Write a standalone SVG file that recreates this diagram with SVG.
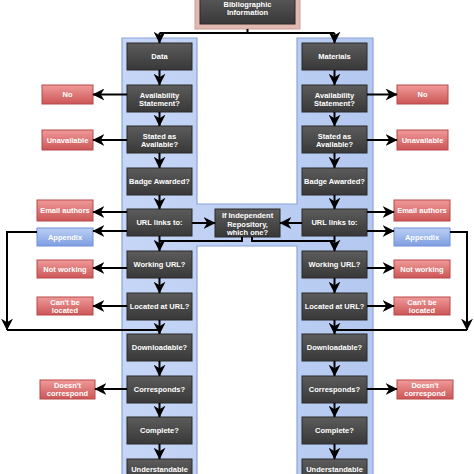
<svg xmlns="http://www.w3.org/2000/svg" width="474" height="474" viewBox="0 0 474 474">
<defs>
<linearGradient id="gDark" x1="0" y1="0" x2="0" y2="1"><stop offset="0" stop-color="#5c5c5c"/><stop offset="1" stop-color="#383838"/></linearGradient>
<linearGradient id="gRed" x1="0" y1="0" x2="0" y2="1"><stop offset="0" stop-color="#f09a9a"/><stop offset="1" stop-color="#cc5656"/></linearGradient>
<linearGradient id="gBlue" x1="0" y1="0" x2="0" y2="1"><stop offset="0" stop-color="#bcd0f4"/><stop offset="1" stop-color="#7e9ee2"/></linearGradient>
<linearGradient id="gPanel" x1="0" y1="0" x2="1" y2="0"><stop offset="0" stop-color="#c6d6f6"/><stop offset="1" stop-color="#b4c8f0"/></linearGradient>
<marker id="ah" markerUnits="userSpaceOnUse" markerWidth="12" markerHeight="12" viewBox="0 0 10 10" refX="9.5" refY="5" orient="auto">
<path d="M0,0 L10,5 L0,10 L3,5 Z" fill="#000"/>
</marker>
<style>
.d{fill:url(#gDark);stroke:#2a2a2a;stroke-width:1}
.r{fill:url(#gRed);stroke:#b84848;stroke-width:1}
.b{fill:url(#gBlue);stroke:#6f90d8;stroke-width:1}
text{font-family:"Liberation Sans",Arial,sans-serif;font-weight:bold;font-size:7.5px;fill:#fff;text-anchor:middle}
.c{fill:none;stroke:#000;stroke-width:2}
.a{fill:none;stroke:#000;stroke-width:2;marker-end:url(#ah)}
</style>
</defs>
<rect width="474" height="474" fill="#fff"/>
<path d="M122,38 H197 V204 H297 V38 H373 V480 H297 V246 H197 V480 H122 Z" fill="url(#gPanel)" stroke="#8aa4dc" stroke-width="1.2"/>

<g id="biblio">
<rect x="195" y="-6" width="105" height="35" fill="#e2b9b1" stroke="#caa09a"/>
<rect x="200" y="-6" width="95" height="30" class="d"/>
<text x="247.5" y="6.5">Bibliographic</text>
<text x="247.5" y="15">Information</text>
</g>

<g id="L-data"><rect class="d" x="127" y="43" width="65" height="27"/><text x="159.5" y="59.2">Data</text></g>
<g id="L-avail"><rect class="d" x="127" y="85" width="65" height="27"/><text x="159.5" y="97.7">Availability</text><text x="159.5" y="106">Statement?</text></g>
<g id="L-stated"><rect class="d" x="127" y="126" width="65" height="27"/><text x="159.5" y="138.7">Stated as</text><text x="159.5" y="147">Available?</text></g>
<g id="L-badge"><rect class="d" x="127" y="168" width="65" height="27"/><text x="159.5" y="184.2">Badge Awarded?</text></g>
<g id="L-url"><rect class="d" x="127" y="209" width="65" height="27"/><text x="159.5" y="225.2">URL links to:</text></g>
<g id="L-working"><rect class="d" x="127" y="251" width="65" height="27"/><text x="159.5" y="267.2">Working URL?</text></g>
<g id="L-located"><rect class="d" x="127" y="293" width="65" height="27"/><text x="159.5" y="309.2">Located at URL?</text></g>
<g id="L-download"><rect class="d" x="127" y="334" width="65" height="27"/><text x="159.5" y="350.2">Downloadable?</text></g>
<g id="L-corr"><rect class="d" x="127" y="376" width="65" height="27"/><text x="159.5" y="392.2">Corresponds?</text></g>
<g id="L-complete"><rect class="d" x="127" y="417" width="65" height="27"/><text x="159.5" y="433.2">Complete?</text></g>
<g id="L-under"><rect class="d" x="127" y="459" width="65" height="27"/><text x="159.5" y="471.5">Understandable</text></g>

<g id="R-mat"><rect class="d" x="302" y="43" width="65" height="27"/><text x="334.5" y="59.2">Materials</text></g>
<g id="R-avail"><rect class="d" x="302" y="85" width="65" height="27"/><text x="334.5" y="97.7">Availability</text><text x="334.5" y="106">Statement?</text></g>
<g id="R-stated"><rect class="d" x="302" y="126" width="65" height="27"/><text x="334.5" y="138.7">Stated as</text><text x="334.5" y="147">Available?</text></g>
<g id="R-badge"><rect class="d" x="302" y="168" width="65" height="27"/><text x="334.5" y="184.2">Badge Awarded?</text></g>
<g id="R-url"><rect class="d" x="302" y="209" width="65" height="27"/><text x="334.5" y="225.2">URL links to:</text></g>
<g id="R-working"><rect class="d" x="302" y="251" width="65" height="27"/><text x="334.5" y="267.2">Working URL?</text></g>
<g id="R-located"><rect class="d" x="302" y="293" width="65" height="27"/><text x="334.5" y="309.2">Located at URL?</text></g>
<g id="R-download"><rect class="d" x="302" y="334" width="65" height="27"/><text x="334.5" y="350.2">Downloadable?</text></g>
<g id="R-corr"><rect class="d" x="302" y="376" width="65" height="27"/><text x="334.5" y="392.2">Corresponds?</text></g>
<g id="R-complete"><rect class="d" x="302" y="417" width="65" height="27"/><text x="334.5" y="433.2">Complete?</text></g>
<g id="R-under"><rect class="d" x="302" y="459" width="65" height="27"/><text x="334.5" y="471.5">Understandable</text></g>

<g id="repo"><rect class="d" x="215" y="209" width="65" height="28"/><text x="247.5" y="217.7">If Independent</text><text x="247.5" y="226.5">Repository,</text><text x="247.5" y="234.7">which one?</text></g>

<g id="L-no"><rect class="r" x="42" y="85" width="51" height="19"/><text x="67.5" y="97.2">No</text></g>
<g id="L-unav"><rect class="r" x="42" y="130" width="51" height="20"/><text x="67.5" y="142.7">Unavailable</text></g>
<g id="L-email"><rect class="r" x="37" y="200" width="56" height="21"/><text x="65" y="213.2">Email authors</text></g>
<g id="L-app"><rect class="b" x="37" y="228" width="56" height="18"/><text x="65" y="239.7">Appendix</text></g>
<g id="L-notw"><rect class="r" x="37" y="260" width="56" height="18"/><text x="65" y="271.7">Not working</text></g>
<g id="L-cant"><rect class="r" x="37" y="297" width="56" height="18"/><text x="65" y="304.5">Can't be</text><text x="65" y="312.7">located</text></g>
<g id="L-doesnt"><rect class="r" x="40" y="380" width="55" height="19"/><text x="67.5" y="387.8">Doesn't</text><text x="67.5" y="396">correspond</text></g>

<g id="R-no"><rect class="r" x="397" y="85" width="51" height="19"/><text x="422.5" y="97.2">No</text></g>
<g id="R-unav"><rect class="r" x="397" y="130" width="51" height="20"/><text x="422.5" y="142.7">Unavailable</text></g>
<g id="R-email"><rect class="r" x="394" y="200" width="56" height="21"/><text x="422" y="213.2">Email authors</text></g>
<g id="R-app"><rect class="b" x="394" y="228" width="56" height="18"/><text x="422" y="239.7">Appendix</text></g>
<g id="R-notw"><rect class="r" x="394" y="260" width="56" height="18"/><text x="422" y="271.7">Not working</text></g>
<g id="R-cant"><rect class="r" x="394" y="297" width="56" height="18"/><text x="422" y="304.5">Can't be</text><text x="422" y="312.7">located</text></g>
<g id="R-doesnt"><rect class="r" x="397" y="380" width="56" height="19"/><text x="425" y="387.8">Doesn't</text><text x="425" y="396">correspond</text></g>

<g id="connectors">
<path class="c" d="M247.5,29 V33 M159.5,33 H334.5"/>
<path class="a" d="M159.5,33 V43"/>
<path class="a" d="M334.5,33 V43"/>
<path class="a" d="M159.5,70 V85"/><path class="a" d="M159.5,112 V126"/><path class="a" d="M159.5,153 V168"/><path class="a" d="M159.5,195 V209"/><path class="a" d="M159.5,236 V251"/><path class="a" d="M159.5,278 V293"/><path class="a" d="M159.5,320 V334"/><path class="a" d="M159.5,361 V376"/><path class="a" d="M159.5,403 V417"/><path class="a" d="M159.5,444 V459"/>
<path class="a" d="M334.5,70 V85"/><path class="a" d="M334.5,112 V126"/><path class="a" d="M334.5,153 V168"/><path class="a" d="M334.5,195 V209"/><path class="a" d="M334.5,236 V251"/><path class="a" d="M334.5,278 V293"/><path class="a" d="M334.5,320 V334"/><path class="a" d="M334.5,361 V376"/><path class="a" d="M334.5,403 V417"/><path class="a" d="M334.5,444 V459"/>
<path class="a" d="M127,94.5 H93"/><path class="a" d="M127,140 H93"/><path class="a" d="M127,212 H93"/><path class="a" d="M127,231 H93"/><path class="a" d="M127,268 H93"/><path class="a" d="M127,306 H93"/><path class="a" d="M127,389 H95"/>
<path class="a" d="M367,94.5 H397"/><path class="a" d="M367,140 H397"/><path class="a" d="M367,212 H394"/><path class="a" d="M367,231 H394"/><path class="a" d="M367,268 H394"/><path class="a" d="M367,306 H394"/><path class="a" d="M367,389 H397"/>
<path class="a" d="M192,223 H215"/>
<path class="a" d="M302,223 H280"/>
<path class="c" d="M242,237 V241 H159.5"/>
<path class="c" d="M252,237 V241 H334.5"/>
<path class="a" d="M37,232 H7 V330"/>
<path class="c" d="M7,330 H159.5"/>
<path class="a" d="M450,232 H467 V330"/>
<path class="c" d="M467,330 H334.5"/>
</g>
</svg>
